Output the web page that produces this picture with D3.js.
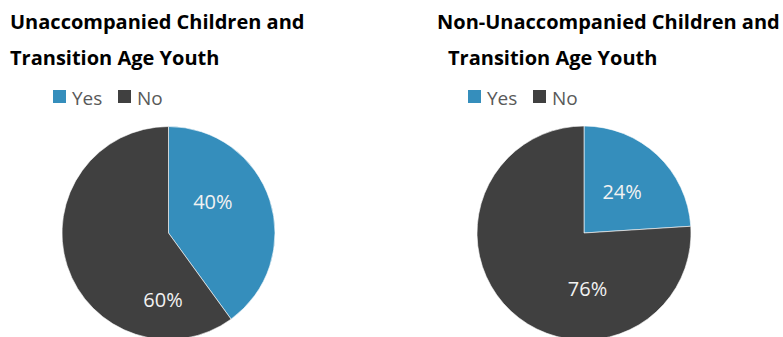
<!DOCTYPE html>
<html><head><meta charset="utf-8">
<script src="https://cdn.jsdelivr.net/npm/d3@7"></script>
<style>
html,body{margin:0;padding:0;background:#fff;}
svg{display:block;}
</style></head>
<body>
<svg id="chart" width="783" height="337"></svg>
<script>
// ---- data ----
const categories = ["Yes", "No"];
const titlesLeft = ["Unaccompanied Children and", "Transition Age Youth"];
const titlesRight = ["Non-Unaccompanied Children and", "Transition Age Youth"];
const valuesLeft = [40, 60];
const valuesRight = [24, 76];
const colors = ["#358EBC", "#404040"];

// ---- layout ----
const svg = d3.select("#chart");
const FONT = "'Open Sans', 'Noto Sans', sans-serif";

const charts = [
  {title: titlesLeft, values: valuesLeft, cx: 168.5, cy: 233, r: 106.5,
   titleX: [10, 10], legendX: 53,
   labelPolar: [[54.7, 0.51], [184.7, 0.635]]},
  {title: titlesRight, values: valuesRight, cx: 584, cy: 233, r: 107,
   titleX: [437, 448], legendX: 468,
   labelPolar: [[43.2, 0.52], [176.4, 0.52]]}
];

const pie = d3.pie().sort(null).value(d => d);

charts.forEach((c) => {
  const g = svg.append("g");
  c.title.forEach((t, i) => {
    g.append("text")
      .attr("x", c.titleX[i]).attr("y", i === 0 ? 29 : 65)
      .attr("font-family", FONT).attr("font-weight", "bold")
      .attr("font-size", 20).attr("fill", "#000")
      .text(t);
  });
  const lg = g.append("g").attr("transform", `translate(${c.legendX},90)`);
  let x = 0;
  categories.forEach((cat, i) => {
    lg.append("rect").attr("x", x).attr("y", 0).attr("width", 13).attr("height", 13)
      .attr("fill", colors[i]);
    lg.append("text").attr("x", x + 19).attr("y", 14.5)
      .attr("font-family", FONT).attr("font-size", 19).attr("fill", "#595959")
      .text(cat);
    x += 65;
  });
  const arcs = pie(c.values);
  const arc = d3.arc().innerRadius(0).outerRadius(c.r);
  const pg = g.append("g").attr("transform", `translate(${c.cx},${c.cy})`);
  pg.selectAll("path").data(arcs).enter().append("path")
    .attr("d", arc).attr("fill", (d, i) => colors[i])
    .attr("stroke", "#fff").attr("stroke-width", 0.6);
  pg.selectAll("text.lbl").data(arcs).enter().append("text")
    .attr("class", "lbl")
    .attr("x", (d, i) => Math.sin(c.labelPolar[i][0] * Math.PI / 180) * c.labelPolar[i][1] * c.r)
    .attr("y", (d, i) => -Math.cos(c.labelPolar[i][0] * Math.PI / 180) * c.labelPolar[i][1] * c.r)
    .attr("dy", "0.35em")
    .attr("text-anchor", "middle")
    .attr("font-family", FONT).attr("font-size", 20).attr("fill", "#F2F2F2")
    .text(d => d.data + "%");
});
</script>
</body></html>
